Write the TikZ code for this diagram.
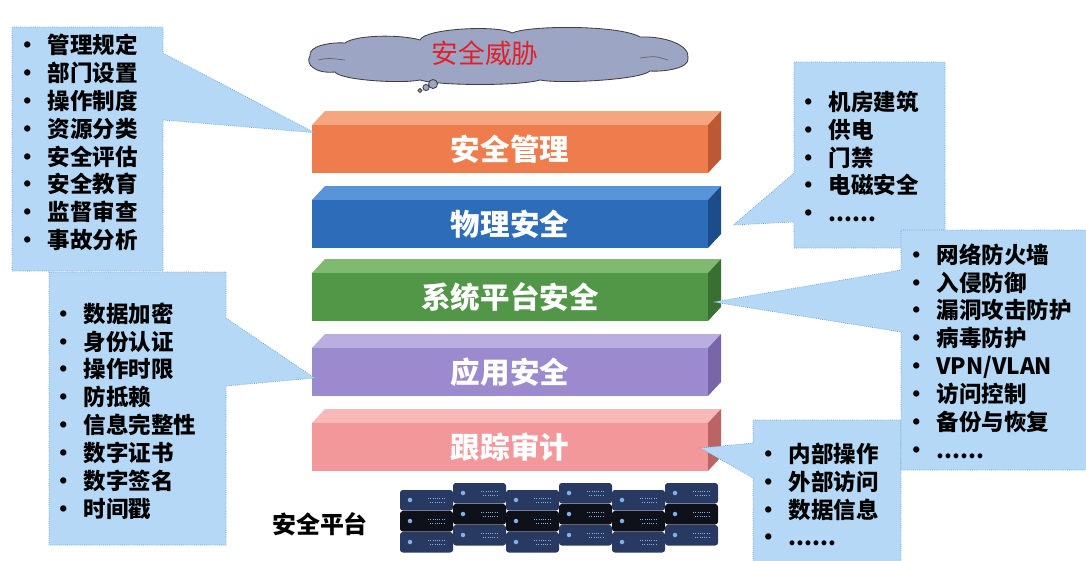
\documentclass[tikz,border=0pt]{standalone}
\usepackage{fontspec}
\setmainfont{Noto Sans CJK SC}

\definecolor{mgmtfront}{RGB}{238,124,76}
\definecolor{mgmttop}{RGB}{246,166,126}
\definecolor{mgmtside}{RGB}{188,88,52}
\definecolor{physfront}{RGB}{44,108,184}
\definecolor{phystop}{RGB}{88,148,218}
\definecolor{physside}{RGB}{28,76,138}
\definecolor{sysfront}{RGB}{82,150,72}
\definecolor{systop}{RGB}{128,186,112}
\definecolor{sysside}{RGB}{56,112,50}
\definecolor{appfront}{RGB}{156,138,206}
\definecolor{apptop}{RGB}{186,174,225}
\definecolor{appside}{RGB}{120,102,168}
\definecolor{auditfront}{RGB}{242,152,154}
\definecolor{audittop}{RGB}{248,184,184}
\definecolor{auditside}{RGB}{186,100,102}
\definecolor{callfill}{RGB}{180,216,245}
\definecolor{calledge}{RGB}{98,158,214}
\definecolor{cloudfill}{RGB}{156,165,196}
\definecolor{threatred}{RGB}{226,32,42}
\definecolor{rackblue}{RGB}{40,58,98}
\definecolor{rackdark}{RGB}{14,17,26}
\definecolor{rackled}{RGB}{130,176,232}

\tikzset{
  slab/.style={minimum width=9.9cm, minimum height=1.2cm, inner sep=0pt,
    text=white, font=\bfseries\fontsize{21pt}{24pt}\selectfont},
  callout/.style={fill=callfill, draw=calledge, densely dotted, line width=0.5pt},
  items/.style={anchor=west, align=left, inner sep=0pt,
    font=\bfseries\fontsize{16pt}{19.8pt}\selectfont},
  puff/.style={fill=cloudfill, draw=black!75, line width=0.6pt},
}

% one layer of the stack: front face as a named node, top and side faces around it
% #1 name, #2 top edge of the front face, #3 colour prefix, #4 label
\newcommand{\slab}[4]{%
  \fill[#3top] (312,#2) -- (325,#2-14) -- (721,#2-14) -- (708,#2) -- cycle;
  \fill[#3side] (708,#2) -- (721,#2-14) -- (721,#2+34) -- (708,#2+48) -- cycle;
  \node[slab, fill=#3front] (#1) at (510,#2+24) {#4};
}
\newcommand{\itm}{\makebox[1.4em][l]{•}}

\begin{document}
\begin{tikzpicture}[x=0.025cm, y=-0.025cm]
  \useasboundingbox[fill=white] (0,0) rectangle (1086,560);

  % threat cloud
  \draw[puff] (310,56) .. controls (308,46) and (330,42) .. (345,43)
    .. controls (355,35) and (400,34) .. (420,40)
    .. controls (425,28) and (500,25) .. (512,33)
    .. controls (530,25) and (620,25) .. (640,37)
    .. controls (665,36) and (690,45) .. (688,58)
    .. controls (690,68) and (665,72) .. (650,71)
    .. controls (640,80) and (560,84) .. (540,80)
    .. controls (520,86) and (440,86) .. (420,80)
    .. controls (400,84) and (340,80) .. (335,72)
    .. controls (315,74) and (305,64) .. (310,56) -- cycle;
  \draw[black!60, line width=0.5pt] (318,60) .. controls (328,58) .. (345,60);
  \draw[black!60, line width=0.5pt] (640,58) .. controls (655,56) .. (668,60);
  \node[text=threatred, font=\fontsize{19pt}{22pt}\selectfont] (threat) at (485,53) {安全威胁};
  \draw[puff] (433,84) circle (3.2pt);
  \draw[puff] (426,87.5) circle (2.2pt);
  \draw[puff] (420,90.5) circle (1.4pt);

  % the five layers
  \slab{mgmt}{125}{mgmt}{安全管理}
  \slab{phys}{200}{phys}{物理安全}
  \slab{sys}{273}{sys}{系统平台安全}
  \slab{app}{348}{app}{应用安全}
  \slab{audit}{423}{audit}{跟踪审计}

  % pointer tips of the callouts
  \coordinate (mgmt tip) at ([shift={(3,8)}]mgmt.north west);
  \coordinate (phys tip) at ([shift={(25,1)}]phys.east);
  \coordinate (sys tip) at ([shift={(5,5)}]sys.east);
  \coordinate (app tip) at ([shift={(3,6)}]app.west);
  \coordinate (audit tip) at ([shift={(-8,1)}]audit.east);

  % left callouts
  \draw[callout] (12,27) -- (163,27) -- (163,53) -- (mgmt tip) -- (163,120)
    -- (163,271) -- (12,271) -- cycle;
  \node[items] (mgmt list) at (15.75,142.5) {\itm 管理规定\\ \itm 部门设置\\ \itm 操作制度\\
    \itm 资源分类\\ \itm 安全评估\\ \itm 安全教育\\ \itm 监督审查\\ \itm 事故分析};
  \draw[callout] (49,272) -- (226,272) -- (226,318) -- (app tip) -- (226,386)
    -- (226,545) -- (49,545) -- cycle;
  \node[items] (app list) at (51.75,411) {\itm 数据加密\\ \itm 身份认证\\ \itm 操作时限\\
    \itm 防抵赖\\ \itm 信息完整性\\ \itm 数字证书\\ \itm 数字签名\\ \itm 时间戳};

  % right callouts
  \draw[callout] (794,62) -- (945,62) -- (945,248) -- (794,248) -- (794,222)
    -- (phys tip) -- (794,173) -- cycle;
  \node[items] (phys list) at (796.75,156.5) {\itm 机房建筑\\ \itm 供电\\ \itm 门禁\\
    \itm 电磁安全\\ \itm ......};
  \draw[callout] (753,420) -- (901,420) -- (901,562) -- (753,562) -- (753,478)
    -- (audit tip) -- (753,443) -- cycle;
  \node[items] (audit list) at (756.75,494.5) {\itm 内部操作\\ \itm 外部访问\\ \itm 数据信息\\
    \itm ......};
  \draw[callout] (901,230) -- (1088,230) -- (1088,470) -- (901,470) -- (901,332)
    -- (sys tip) -- (901,270) -- cycle;
  \node[items] (sys list) at (904.75,351) {\itm 网络防火墙\\ \itm 入侵防御\\ \itm 漏洞攻击防护\\
    \itm 病毒防护\\ \itm VPN/VLAN\\ \itm 访问控制\\ \itm 备份与恢复\\ \itm ......};

  % server rack of the platform
  \foreach \i in {0,...,5} {
    \pgfmathsetmacro\dx{400+\i*53}
    \pgfmathsetmacro\dy{mod(\i,2)==0 ? 490 : 483}
    \foreach \r/\c in {0/rackblue, 1/rackdark, 2/rackblue} {
      \fill[\c, rounded corners=2pt] (\dx,\dy+\r*21) rectangle ++(53,20.5);
      \fill[rackled] (\dx+10,\dy+\r*21+10) circle (1.6pt);
      \draw[rackled, line width=0.7pt, dash pattern=on 0.7pt off 0.9pt]
        (\dx+28,\dy+\r*21+8) -- ++(16,0) (\dx+30,\dy+\r*21+12) -- ++(14,0);
    }
  }
  \node[font=\bfseries\fontsize{17pt}{20pt}\selectfont] (platform) at (320,524) {安全平台};
\end{tikzpicture}
\end{document}
